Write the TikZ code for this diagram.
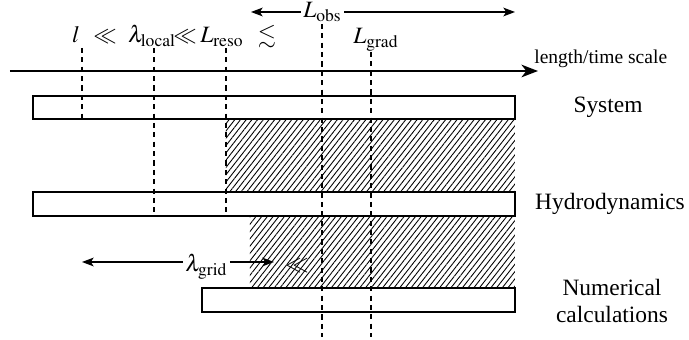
\documentclass[tikz,border=0pt]{standalone}
\usepackage{amssymb}
\usepackage{mathptmx}
\usepackage{fontspec}
\setmainfont{Liberation Serif}
\usetikzlibrary{patterns.meta,arrows.meta}

\tikzset{
  bar/.style={draw, line width=0.8pt, fill=white},
  guide/.style={line width=0.9pt, dash pattern=on 2.6pt off 2.2pt},
  hatch/.style={pattern={Lines[angle=52, distance=2.3pt, line width=0.45pt]}},
  span/.style={-{Stealth[length=6pt,width=4.5pt,inset=1.5pt]}, line width=0.6pt},
  axis/.style={-{Stealth[length=8.5pt,width=6.5pt,inset=2.5pt]}, line width=0.8pt},
  lbl/.style={inner sep=1pt, font=\fontsize{12}{14}\selectfont},
  barlabel/.style={inner sep=1pt, font=\fontsize{12}{14}\selectfont, align=center}
}

\begin{document}
\begin{tikzpicture}[x=0.018cm, y=-0.018cm]
\useasboundingbox (0,0) rectangle (689,340);

% hatched ranges
\path[hatch] (226,119) rectangle (515,192);
\path[hatch] (250,216) rectangle (515,288);

% bars
\draw[bar] (33,96) coordinate (sysnw) rectangle (515,119) coordinate (sysse);
\draw[bar] (33,192) coordinate (hydnw) rectangle (515,216) coordinate (hydse);
\draw[bar] (202,288) coordinate (numnw) rectangle (515,312) coordinate (numse);

\node[barlabel] (sys) at (608,107) {System};
\node[barlabel] (hyd) at (610,204) {Hydrodynamics};
\node[barlabel] (num) at (612,301) {Numerical\\calculations};

% axis
\coordinate (ax0) at (10,71);
\coordinate (ax1) at (538,71);
\draw[axis] (ax0) -- (ax1);
\node[anchor=west, inner sep=1pt] (axlbl) at (532,59) {length/time scale};

% scale labels
\node[lbl, anchor=base] (ell) at (76,43) {$l$};
\node[lbl, anchor=base] (ll1) at (105,43) {$\ll$};
\node[lbl, anchor=base] (lloc) at (152,43) {$\lambda_{\mathrm{local}}$};
\node[lbl, anchor=base] (ll2) at (185,43) {$\ll$};
\node[lbl, anchor=base] (lres) at (222,43) {$L_{\mathrm{reso}}$};
\node[lbl, anchor=base] (lsim) at (267,43) {$\lesssim$};
\node[lbl, anchor=base west] (lobs) at (301,18) {$L_{\mathrm{obs}}$};
\node[lbl, anchor=base west] (lgrad) at (351,44) {$L_{\mathrm{grad}}$};
\node[lbl, anchor=base west] (lgrid) at (183,272) {$\lambda_{\mathrm{grid}}$};
\node[lbl, anchor=base] (ll3) at (297,272) {$\ll$};

% guide lines
\coordinate (gl) at (82,48);
\coordinate (gloc) at (154,48);
\coordinate (gres) at (226,48);
\coordinate (gobs) at (322,24);
\coordinate (ggrad) at (371,52);
\draw[guide] (gl) -- (gl |- sysse);
\draw[guide] (gloc) -- (gloc |- hydse);
\draw[guide] (gres) -- (gres |- hydse);
\draw[guide] (gobs) -- (322,337);
\draw[guide] (ggrad) -- (371,337);

% spans
\coordinate (obsl) at (251,12);
\coordinate (obsr) at (515,12);
\draw[span] (lobs.west |- obsl) -- (obsl);
\draw[span] (lobs.east |- obsr) -- (obsr);
\coordinate (gridl) at (82,262);
\coordinate (gridr) at (274,262);
\draw[span] (lgrid.west |- gridl) -- (gridl);
\draw[span] (lgrid.east |- gridr) -- (gridr);
\end{tikzpicture}
\end{document}
